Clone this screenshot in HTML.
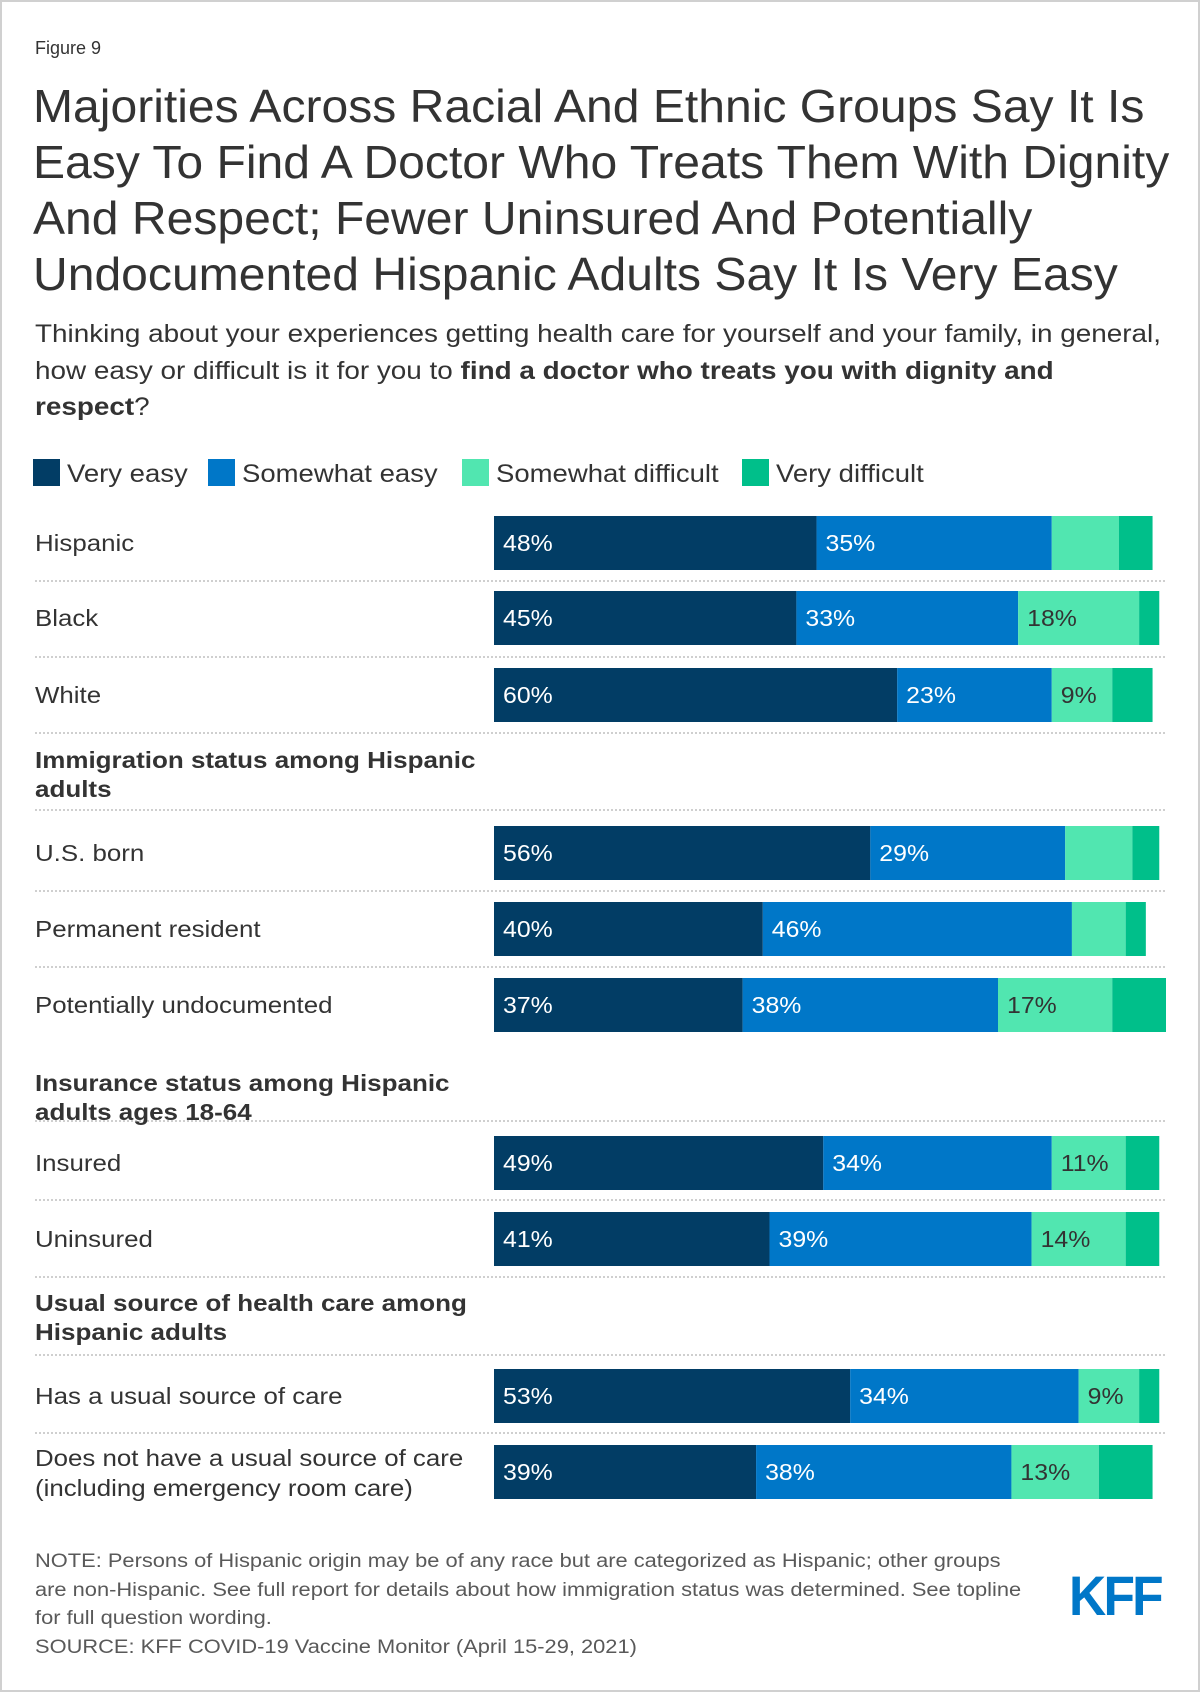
<!DOCTYPE html>
<html><head><meta charset="utf-8"><style>
body{margin:0;width:1200px;height:1692px;background:#fff;font-family:"Liberation Sans",Arial,sans-serif;position:relative;overflow:hidden}
.frame{position:absolute;left:0;top:0;width:1196px;height:1688px;border:2px solid #d0d0d0}
.t{position:absolute;white-space:nowrap;color:#333;transform-origin:left top}
</style></head><body>
<div class="frame"></div>
<div class="t" style="left:35px;top:38px;font-size:18px">Figure 9</div>
<div class="t" style="left:33px;top:78px;font-size:46px;line-height:56px;color:#333;transform:scaleX(1.045)">Majorities Across Racial And Ethnic Groups Say It Is<br>Easy To Find A Doctor Who Treats Them With Dignity<br>And Respect; Fewer Uninsured And Potentially<br>Undocumented Hispanic Adults Say It Is Very Easy</div>
<div class="t" style="left:35px;top:316px;font-size:25px;line-height:36.5px;color:#333;transform:scaleX(1.115)">Thinking about your experiences getting health care for yourself and your family, in general,<br>how easy or difficult is it for you to <b>find a doctor who treats you with dignity and<br>respect</b>?</div>
<svg id="chart" width="1200" height="1692" style="position:absolute;left:0;top:0"></svg>
<div class="t" style="left:35px;top:1548px;font-size:19px;line-height:28.5px;color:#595959;transform:scaleX(1.15)">NOTE: Persons of Hispanic origin may be of any race but are categorized as Hispanic; other groups<br>are non-Hispanic. See full report for details about how immigration status was determined. See topline<br>for full question wording.<br>SOURCE: KFF COVID-19 Vaccine Monitor (April 15-29, 2021)</div>
<div class="t" style="left:1069px;top:1568px;font-size:56px;line-height:56px;font-weight:bold;color:#0077c8;transform:scaleX(0.92);letter-spacing:-3px">KFF</div>
<script>
const categories=["Hispanic","Black","White","U.S. born","Permanent resident","Potentially undocumented","Insured","Uninsured","Has a usual source of care","Does not have a usual source of care|(including emergency room care)"];
const veryEasy=[48,45,60,56,40,37,49,41,53,39];
const somewhatEasy=[35,33,23,29,46,38,34,39,34,38];
const somewhatDifficult=[10,18,9,10,8,17,11,14,9,13];
const veryDifficult=[5,3,6,4,3,8,5,5,3,8];
const showSD=[false,true,true,false,false,true,true,true,true,true];
const seriesNames=["Very easy","Somewhat easy","Somewhat difficult","Very difficult"];
const colors=["#023d65","#0077c8","#51e6b0","#00bf8a"];
const rowY=[543,618,695,853,929,1005,1163,1239,1396,1472];
const headings=[["Immigration status among Hispanic","adults",760],["Insurance status among Hispanic","adults ages 18-64",1083],["Usual source of health care among","Hispanic adults",1303]];
const seps=[581,657,733,810,891,967,1121,1200,1277,1355,1433];
const legendX=[33,208,462,742];
const svg=document.getElementById('chart');const NS="http://www.w3.org/2000/svg";
const x0=494,scale=6.72,barH=54;
const xs=v=>x0+v*scale;
function mk(tag,attrs){const e=document.createElementNS(NS,tag);for(const k in attrs)e.setAttribute(k,attrs[k]);svg.appendChild(e);return e;}
function stretch(t,f){const w=t.getComputedTextLength();t.setAttribute('textLength',w*f);t.setAttribute('lengthAdjust','spacingAndGlyphs');}
seriesNames.forEach((n,i)=>{
 const lx=legendX[i];
 const r=mk('rect',{x:lx,y:459,width:27,height:27,fill:colors[i]});
 
 
 const t=mk('text',{x:lx+34,y:482,'font-size':25,fill:'#333','font-family':'Liberation Sans, sans-serif'});t.textContent=n;
 
 
 stretch(t,1.1);
});
seps.forEach(y=>{const l=mk('line',{x1:35,x2:1165,y1:y,y2:y,stroke:'#cfcfcf','stroke-width':2,'stroke-dasharray':'2,2'});
 
 });
headings.forEach(h=>{const t=mk('text',{x:35,y:h[2]+8,'font-size':23,'font-weight':'bold',fill:'#333','font-family':'Liberation Sans, sans-serif'});
 
 
 [h[0],h[1]].forEach((s,j)=>{const a=document.createElementNS(NS,'tspan');a.setAttribute('x',35);if(j)a.setAttribute('dy',29);a.textContent=s;t.appendChild(a);
  const w=a.getComputedTextLength();a.setAttribute('textLength',w*1.13);a.setAttribute('lengthAdjust','spacingAndGlyphs');});});
categories.forEach((c,i)=>{
 const cy=rowY[i];const parts=c.split('|');
 const t=mk('text',{x:35,y:parts.length>1?cy-6:cy+8,'font-size':23.5,fill:'#333','font-family':'Liberation Sans, sans-serif'});
 
 
 parts.forEach((p,j)=>{const s=document.createElementNS(NS,'tspan');s.setAttribute('x',35);if(j)s.setAttribute('dy',30);s.textContent=p;t.appendChild(s);
  const w=s.getComputedTextLength();s.setAttribute('textLength',w*1.1);s.setAttribute('lengthAdjust','spacingAndGlyphs');});
 const vals=[veryEasy[i],somewhatEasy[i],somewhatDifficult[i],veryDifficult[i]];
 let acc=0;
 vals.forEach((v,k)=>{
  const r=mk('rect',{x:xs(acc),y:cy-barH/2,width:v*scale,height:barH,fill:colors[k]});
  
  
  const show=k<2||(k===2&&showSD[i]);
  if(show){const l=mk('text',{x:xs(acc)+9,y:cy+8,'font-size':23,fill:k===2?'#333':'#fff','font-family':'Liberation Sans, sans-serif'});l.textContent=v+'%';
   
   
   stretch(l,1.08);}
  acc+=v;
 });
});
</script>
</body></html>
